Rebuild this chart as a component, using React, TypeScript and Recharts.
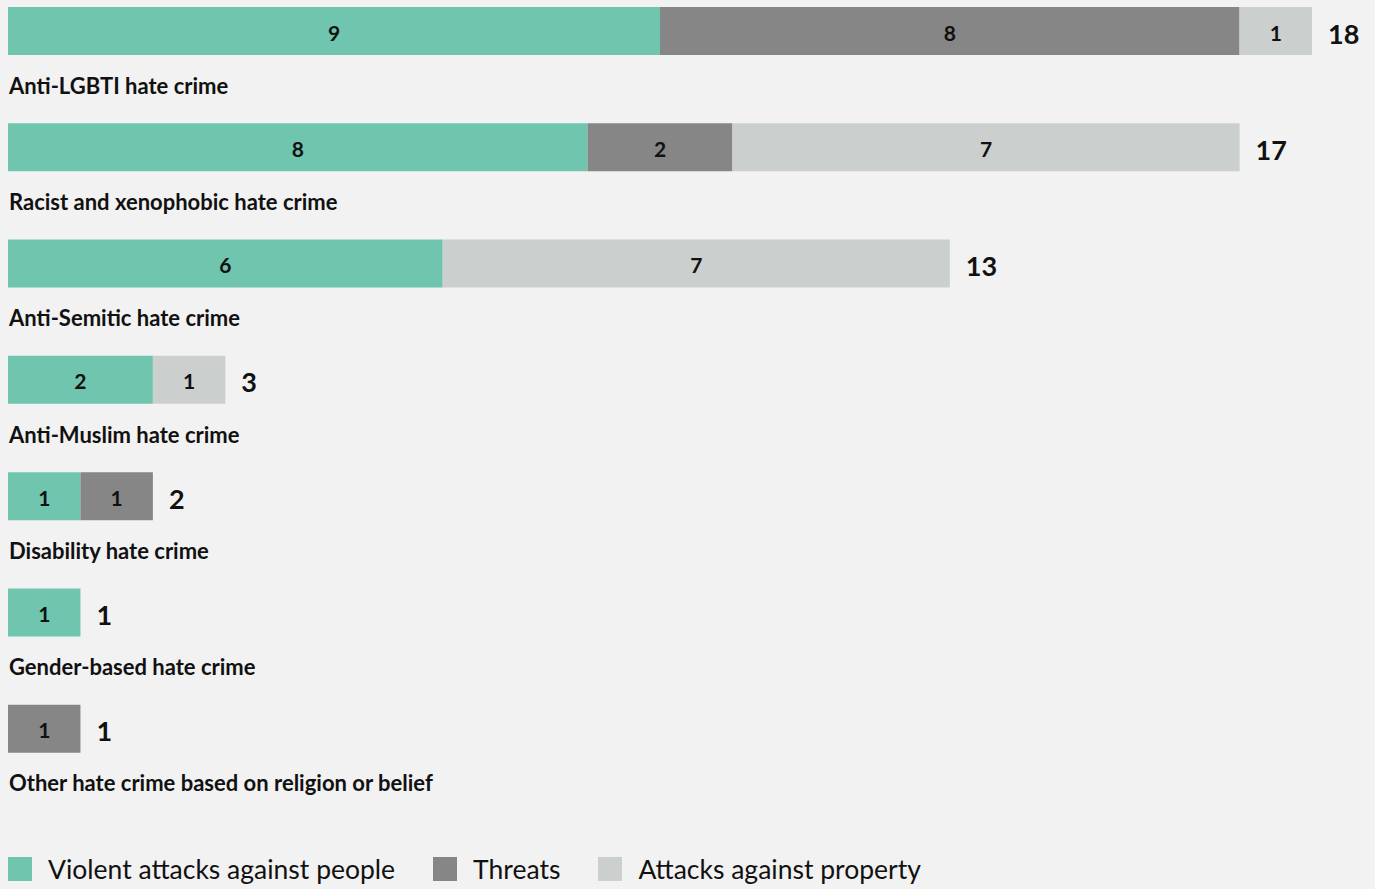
import { BarChart, Bar, XAxis, YAxis, LabelList } from 'recharts'

const categories = [
  'Anti-LGBTI hate crime',
  'Racist and xenophobic hate crime',
  'Anti-Semitic hate crime',
  'Anti-Muslim hate crime',
  'Disability hate crime',
  'Gender-based hate crime',
  'Other hate crime based on religion or belief',
]
const violent = [9, 8, 6, 2, 1, 1, 0]
const threats = [8, 2, 0, 0, 1, 0, 1]
const property = [1, 7, 7, 1, 0, 0, 0]

const SERIES = [
  { key: 'violent', name: 'Violent attacks against people', color: '#6fc5ad' },
  { key: 'threats', name: 'Threats', color: '#868686' },
  { key: 'property', name: 'Attacks against property', color: '#cbcfcd' },
]

const FONT = 'Lato, "Noto Sans", sans-serif'

const data = categories.map((name, i) => ({
  name,
  violent: violent[i],
  threats: threats[i],
  property: property[i],
  total: violent[i] + threats[i] + property[i],
}))

function lastKey(row: any) {
  let k = ''
  SERIES.forEach((s) => {
    if (row[s.key] > 0) k = s.key
  })
  return k
}

const segLabel = (props: any) => {
  const { x, y, width, height, value } = props
  if (!value) return null
  return (
    <text x={x + width / 2} y={y + height / 2 + 1} textAnchor="middle" dominantBaseline="central"
      fontFamily={FONT} fontWeight={700} fontSize={21} fill="#111">
      {value}
    </text>
  )
}

// value here is the category name, so the row can be found whatever entries are skipped
const totalLabel = (key: string) => (props: any) => {
  const { x, y, width, height, value } = props
  const row = data.find((d) => d.name === value)
  if (!row || lastKey(row) !== key) return null
  return (
    <text x={x + width + 16} y={y + height / 2 + 2} dominantBaseline="central"
      fontFamily={FONT} fontWeight={700} fontSize={27} fill="#111">
      {row.total}
    </text>
  )
}

const CategoryTick = (props: any) => {
  const { y, payload } = props
  return (
    <text x={9} y={y + 54} dominantBaseline="central" fontFamily={FONT} fontWeight={700} fontSize={22} fill="#111">
      {payload.value}
    </text>
  )
}

export default function App() {
  return (
    <div style={{ position: 'fixed', left: 0, top: 0, width: 1375, height: 889, background: '#f2f2f2', overflow: 'hidden' }}>
      <div style={{ position: 'absolute', left: 0, top: -27 }}>
        <BarChart width={1375} height={854} data={data} layout="vertical"
          margin={{ top: 0, right: 63, left: 0, bottom: 40 }} barSize={48}>
          <XAxis type="number" domain={[0, 18]} hide />
          <YAxis type="category" dataKey="name" width={8} axisLine={false} tickLine={false}
            interval={0} tick={<CategoryTick />} />
          {SERIES.map((s) => (
            <Bar key={s.key} dataKey={s.key} stackId="a" fill={s.color} isAnimationActive={false}>
              <LabelList dataKey={s.key} content={segLabel} />
              <LabelList dataKey="name" content={totalLabel(s.key)} />
            </Bar>
          ))}
        </BarChart>
      </div>
      <div style={{ position: 'absolute', left: 8, top: 857, display: 'flex', alignItems: 'center',
        fontFamily: FONT, fontSize: 26.5, color: '#111' }}>
        {SERIES.map((s) => (
          <div key={s.key} style={{ display: 'flex', alignItems: 'center', marginRight: 38 }}>
            <span style={{ width: 24, height: 24, background: s.color, display: 'inline-block', marginRight: 16 }} />
            <span style={{ lineHeight: '24px' }}>{s.name}</span>
          </div>
        ))}
      </div>
    </div>
  )
}
